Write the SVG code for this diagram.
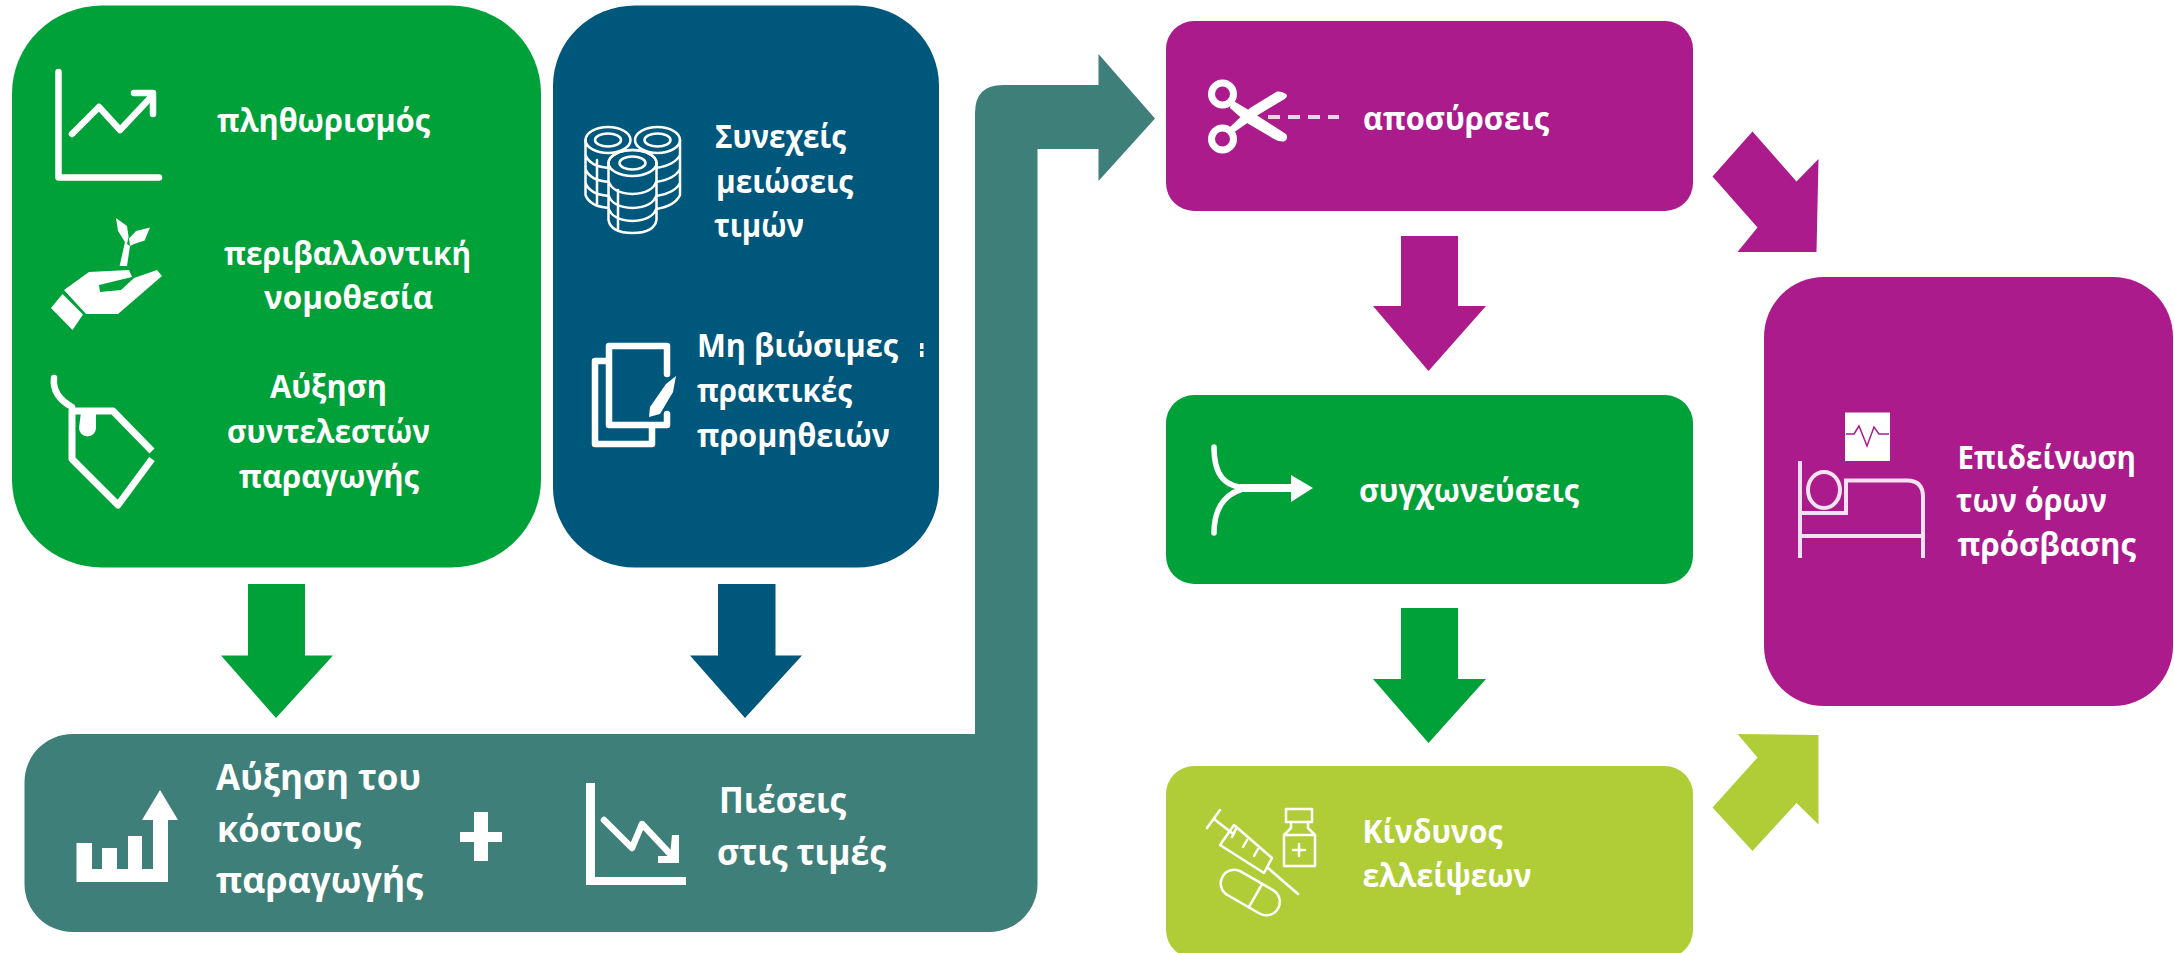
<svg xmlns="http://www.w3.org/2000/svg" width="2174" height="953" viewBox="0 0 2174 953">
<style>
text{font-family:"Open Sans","Noto Sans","Liberation Sans",sans-serif;font-weight:700;fill:#fff;font-size:32px}
.lg{font-size:35px}
.md{font-size:33px}
.ic{fill:none;stroke:#fff;stroke-width:6.500;stroke-linecap:round;stroke-linejoin:round}
.th{fill:none;stroke:#fff;stroke-width:2.500;stroke-linejoin:round;stroke-linecap:round}
.w{fill:#fff}
.green{fill:#01A13A}.blue{fill:#00577C}.teal{fill:#3F7F79}.purple{fill:#AB1B8B}.lime{fill:#B0CD38}
</style>
<rect width="2174" height="953" fill="#fff"/>

<g id="node-cost-pressure">
<path class="teal" d="M975 734V113Q975 85 1003 85H1098.500V54L1155 118.500L1098.500 181V149H1037.500V884A48 48 0 0 1 989.500 932H72.500A48 48 0 0 1 24.500 884V782A48 48 0 0 1 72.500 734Z"/>
<g id="icon-cost-up">
<path class="w" d="M76.500 843H92V869H102V848H117V869H128V836H142V869H153V820H142L160 790L178 820H168V882H76.500Z"/>
</g>
<text class="lg" x="216" y="790" textLength="205" lengthAdjust="spacingAndGlyphs">Αύξηση του</text>
<text class="lg" x="217" y="842" textLength="144" lengthAdjust="spacingAndGlyphs">κόστους</text>
<text class="lg" x="216" y="893" textLength="207" lengthAdjust="spacingAndGlyphs">παραγωγής</text>
<path class="w" d="M474 812H488V832H502V842H488V861H474V842H460V832H474Z"/>
<g id="icon-price-down">
<path class="w" d="M586 783H595V877H686V885H586Z"/>
<path class="ic" d="M604 820L632 848L642 824L672 856"/>
<path class="w" d="M672 835H679V863H658V856H670Z"/>
</g>
<text class="lg" x="719" y="813" textLength="127" lengthAdjust="spacingAndGlyphs">Πιέσεις</text>
<text class="lg" x="717" y="865" textLength="169" lengthAdjust="spacingAndGlyphs">στις τιμές</text>
</g>

<g id="node-factors">
<rect class="green" x="12" y="5.500" width="529" height="562" rx="90" ry="88"/>
<g id="icon-inflation">
<path class="ic" d="M58.500 72V177.500H159"/>
<path class="ic" d="M72 134L99 107L120 130L152 96"/>
<path class="ic" d="M134 93H153V114"/>
</g>
<g id="icon-environment">
<path class="w" d="M51 308L62.500 294L83 314.500L72.500 330Z"/>
<path class="w" d="M64 290L89 272L129 270L132 277L99 285L100 292L121 290L134 278L157 270L162 276L118 314L86 314Z"/>
<path class="w" d="M116 218L127 226L128.600 237L127 244L130 246L129 238.600L136 231L150 227.500L144.600 240.500L134 244L130 246L127 266L119.600 266L125 242L118 231Z"/>
</g>
<g id="icon-tag">
<path class="ic" d="M54 378Q52 396 72 407"/>
<path d="M152 451L113 411H72V459L118 505L152 459" fill="none" stroke="#fff" stroke-width="7" stroke-linejoin="round"/>
<path class="w" d="M81 412H96V428A8.500 8.500 0 0 1 79 428Z"/>
</g>
<text x="217" y="132" textLength="213" lengthAdjust="spacingAndGlyphs">πληθωρισμός</text>
<text x="224" y="264.500" textLength="247" lengthAdjust="spacingAndGlyphs">περιβαλλοντική</text>
<text x="264" y="309" textLength="169" lengthAdjust="spacingAndGlyphs">νομοθεσία</text>
<text x="270" y="398" textLength="117" lengthAdjust="spacingAndGlyphs">Αύξηση</text>
<text x="227" y="443" textLength="203" lengthAdjust="spacingAndGlyphs">συντελεστών</text>
<text x="239" y="488" textLength="180" lengthAdjust="spacingAndGlyphs">παραγωγής</text>
</g>

<g id="node-pricing">
<rect class="blue" x="553" y="5.500" width="386" height="562" rx="82" ry="80"/>
<g id="icon-coins">
<g class="th">
<ellipse cx="608" cy="140" rx="22.500" ry="13"/><ellipse cx="608" cy="140" rx="13" ry="6.500"/>
<path d="M585.500 140V195Q590 207 610 208M585.500 155Q590 167 610 168M585.500 169Q590 181 610 182M585.500 183Q590 195 610 196M597 160V204"/>
<ellipse cx="657.500" cy="140" rx="22.500" ry="13"/><ellipse cx="657.500" cy="140" rx="13" ry="6.500"/>
<path d="M680 140V195Q675 206 656 209M680 155Q675 165 656 168M680 169Q675 179 656 182M680 183Q675 193 656 196"/>
</g>
<ellipse cx="632.500" cy="163" rx="24" ry="13" fill="#00577C" stroke="#fff" stroke-width="2.500"/>
<path d="M608.500 165V220Q611 233 632.500 233Q654 233 656.500 220V165Z" fill="#00577C"/>
<g class="th">
<ellipse cx="632.500" cy="163" rx="24" ry="13"/><ellipse cx="632.500" cy="163" rx="13" ry="6.500"/>
<path d="M608.500 163V220Q611 233 632.500 233Q654 233 656.500 220V163M608.500 181Q612 193 632.500 194Q653 193 656.500 181M608.500 195Q612 207 632.500 208Q653 207 656.500 195M608.500 208Q612 220 632.500 221Q653 220 656.500 208M618 190V230"/>
</g>
</g>
<g id="icon-paper">
<path class="ic" stroke-linecap="butt" d="M607 361H595V444H652V427"/>
<path class="ic" stroke-linecap="butt" d="M667 374V346H609V425H667V414"/>
<path class="w" d="M666 384L676 376L673 392L660 414L649 417L650 407Z"/>
</g>
<path class="w" d="M920 343H923.500V349H920ZM920 351H923.500V357H920Z"/>
<text x="715" y="148" textLength="131" lengthAdjust="spacingAndGlyphs">Συνεχείς</text>
<text x="716" y="193" textLength="137" lengthAdjust="spacingAndGlyphs">μειώσεις</text>
<text x="714" y="237" textLength="90" lengthAdjust="spacingAndGlyphs">τιμών</text>
<text x="697" y="357" textLength="201" lengthAdjust="spacingAndGlyphs">Μη βιώσιμες</text>
<text x="697" y="402" textLength="155" lengthAdjust="spacingAndGlyphs">πρακτικές</text>
<text x="697" y="446.500" textLength="193" lengthAdjust="spacingAndGlyphs">προμηθειών</text>
</g>

<g id="node-withdrawals">
<rect class="purple" x="1166" y="21" width="527" height="190" rx="28"/>
<g id="icon-scissors">
<circle cx="1222.500" cy="94" r="11" fill="none" stroke="#fff" stroke-width="7"/>
<circle cx="1222.500" cy="139" r="11" fill="none" stroke="#fff" stroke-width="7"/>
<path class="w" d="M1232 100L1247 109L1286 134Q1289 139 1284 141.500Q1279 142 1274 139L1247 123L1230 108Z"/>
<path class="w" d="M1229 128L1250 108L1277 91.500Q1283 91 1287 95Q1287 98 1283 100L1258 115L1246 124L1233 133Z"/>
<path d="M1268 117H1339" fill="none" stroke="#F1D4EA" stroke-width="4" stroke-dasharray="12 8"/>
</g>
<text x="1363" y="130" textLength="186" lengthAdjust="spacingAndGlyphs">αποσύρσεις</text>
</g>

<g id="node-mergers">
<rect class="green" x="1166" y="395" width="527" height="189" rx="28"/>
<g id="icon-merge">
<path d="M1214 447C1214 475 1224 488 1250 488M1214 533C1214 505 1228 490 1250 488" fill="none" stroke="#fff" stroke-width="5.500" stroke-linecap="round"/>
<path class="w" d="M1240 484H1291V475L1313 488L1291 502V492H1240Z"/>
</g>
<text x="1359" y="502" textLength="220" lengthAdjust="spacingAndGlyphs">συγχωνεύσεις</text>
</g>

<g id="node-shortages">
<rect class="lime" x="1166" y="766" width="527" height="192" rx="28"/>
<g id="icon-medicine">
<g class="th">
<path d="M1207 828L1220 810M1214 819L1232 833M1220 845L1234 825L1272 858L1264 873ZM1236 829L1232 837M1247 840L1243 847M1258 849L1254 856M1268 868L1298 894"/>
<rect x="1286" y="809" width="26" height="13"/><path d="M1291 822V828L1284 835V866H1315V835L1308 828V822M1284 835H1315"/>
<path d="M1299 844V856M1293 850H1305"/>
<g transform="rotate(30 1250 893)"><rect x="1218" y="879" width="64" height="27" rx="13.500"/><path d="M1256 879V906"/></g>
</g>
</g>
<text x="1362.500" y="843" textLength="140" lengthAdjust="spacingAndGlyphs">Κίνδυνος</text>
<text x="1362.500" y="887" textLength="169" lengthAdjust="spacingAndGlyphs">ελλείψεων</text>
</g>

<g id="node-access">
<rect class="purple" x="1764" y="277" width="409" height="429" rx="60"/>
<g id="icon-bed">
<rect class="w" x="1845" y="412.500" width="45" height="48.500"/>
<path d="M1846 434H1854L1859 426L1867 446L1874 427L1879 434H1889" fill="none" stroke="#AB1B8B" stroke-width="1.500"/>
<g fill="none" stroke="#F5E2F0" stroke-width="4">
<path d="M1800 461V558M1800 513H1846V480.500H1907Q1923 480.500 1923 497V558M1800 536H1923"/>
<ellipse cx="1824" cy="490" rx="16" ry="18"/>
</g>
</g>
<text class="md" x="1957.500" y="469" textLength="178.500" lengthAdjust="spacingAndGlyphs">Επιδείνωση</text>
<text class="md" x="1956" y="511.500" textLength="151" lengthAdjust="spacingAndGlyphs">των όρων</text>
<text class="md" x="1957.500" y="555.500" textLength="178.500" lengthAdjust="spacingAndGlyphs">πρόσβασης</text>
</g>

<g id="connectors">
<polygon class="green" points="248,584 305,584 305,655.500 333,655.500 276,718 221,655.500 248,655.500"/>
<polygon class="blue" points="718,584 775.500,584 775.500,655.500 802,655.500 745,718 690,655.500 718,655.500"/>
<polygon class="purple" points="1401,236 1458,236 1458,306 1486,306 1428.500,371 1373,306 1401,306"/>
<polygon class="green" points="1401,608 1458,608 1458,679 1486,679 1428.500,743 1373,679 1401,679"/>
<polygon class="purple" points="1752.500,131.500 1796.500,181.500 1818.500,159 1816.500,252 1737.500,252 1757.500,227.500 1712.500,176.500"/>
<polygon class="lime" points="1737.500,734 1818.500,735 1818.500,824.500 1796.500,803 1752.500,851 1712.500,807.500 1757.500,757.500"/>
</g>
</svg>
